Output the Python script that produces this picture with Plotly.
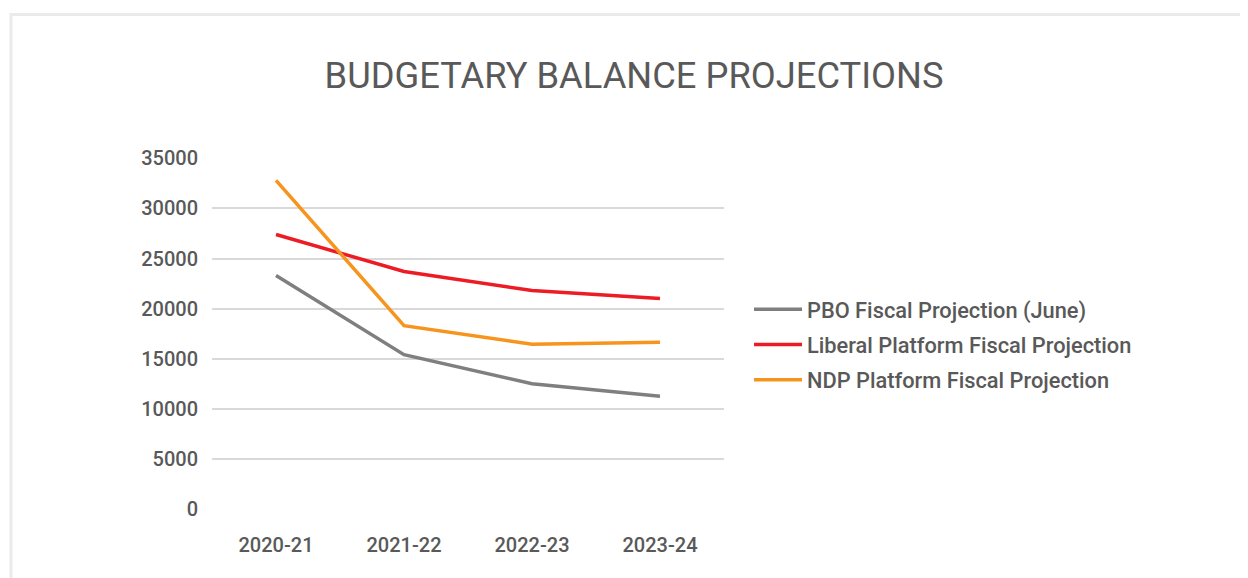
import plotly.graph_objects as go

categories = ["2020-21", "2021-22", "2022-23", "2023-24"]
pbo = [23300, 15400, 12500, 11250]
liberal = [27400, 23700, 21800, 21000]
ndp = [32800, 18300, 16450, 16650]
series_names = ["PBO Fiscal Projection (June)", "Liberal Platform Fiscal Projection", "NDP Platform Fiscal Projection"]
series_colors = ["#7f7f7f", "#ed1c24", "#f7941d"]
y_ticks = [0, 5000, 10000, 15000, 20000, 25000, 30000, 35000]

# the page body has an 8px margin; work in page pixels and convert
OFF = 8
W, H = 1248 - OFF, 578 - OFF
L, R, T, B = 212 - OFF, 724 - OFF, 158 - OFF, 509 - OFF

def px_x(p):  # page px -> paper x
    return (p - OFF - L) / (R - L)

def px_y(p):  # page px -> paper y
    return (B - (p - OFF)) / (B - T)

fig = go.Figure()
for i, (name, vals, col) in enumerate(zip(series_names, [pbo, liberal, ndp], series_colors)):
    fig.add_trace(go.Scatter(
        x=categories, y=vals, mode="lines", name=name,
        line=dict(color=col, width=3.5), legendgroup=f"g{i}",
    ))

fig.add_shape(type="rect", xref="paper", yref="paper",
              x0=px_x(11), x1=px_x(1270), y0=px_y(14.5), y1=px_y(610),
              line=dict(color="#ebebeb", width=3), fillcolor="rgba(0,0,0,0)", layer="below")

font_family = "Roboto, 'Open Sans', sans-serif"
tick_font = dict(size=20, color="#595959", family=font_family, weight=500)
legend_font = dict(size=21.8, color="#595959", family=font_family, weight=500)
fig.update_layout(
    width=W, height=H,
    margin=dict(l=L, r=W - R, t=T, b=H - B, autoexpand=False),
    paper_bgcolor="white", plot_bgcolor="white",
    font=dict(family=font_family, color="#595959", size=20),
    title=dict(text="BUDGETARY BALANCE PROJECTIONS", x=(634 - OFF) / W, xanchor="center",
               y=1 - (75 - OFF) / H, yanchor="middle", xref="container", yref="container",
               font=dict(size=36.3, color="#595959", family=font_family)),
    showlegend=True,
    legend=dict(x=px_x(749), xanchor="left", y=px_y(345), yanchor="middle",
                font=legend_font, tracegroupgap=4, itemwidth=48,
                traceorder="grouped", bgcolor="rgba(0,0,0,0)"),
    xaxis=dict(showgrid=False, showline=False, zeroline=False, ticks="outside",
               ticklen=18, tickcolor="rgba(0,0,0,0)", tickfont=tick_font,
               range=[-0.5, 3.5]),
    yaxis=dict(range=[0, 35030], tickvals=y_ticks, showgrid=True, gridcolor="#d9d9d9",
               gridwidth=1.5, zeroline=False, showline=False, ticks="outside", ticklen=9,
               tickcolor="rgba(0,0,0,0)", tickfont=tick_font,
               tickformat="d"),
)

fig.write_html("out.html")
